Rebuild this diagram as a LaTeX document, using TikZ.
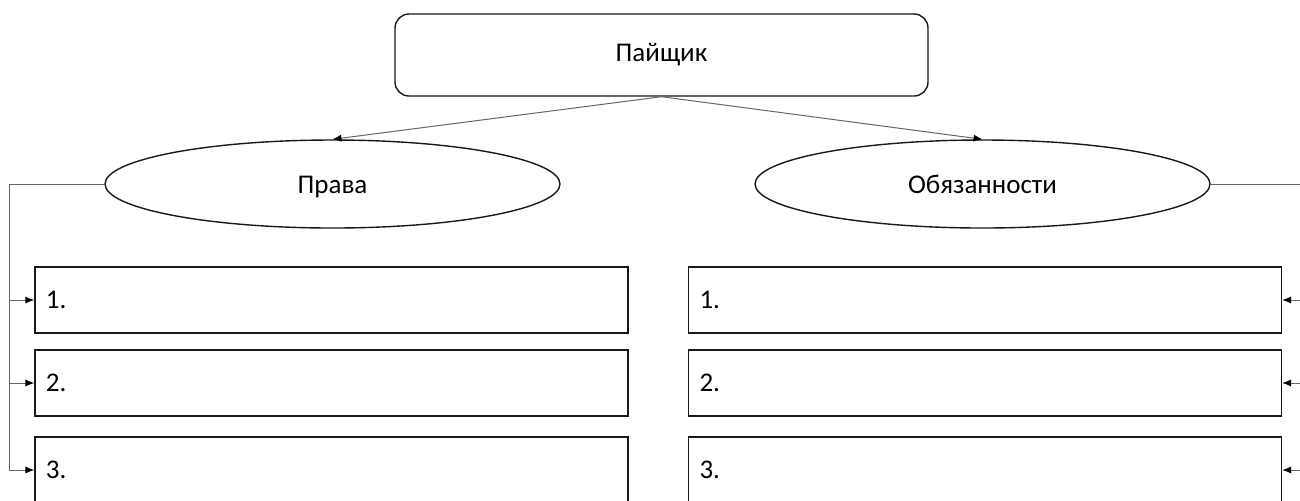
\documentclass[tikz,border=0pt]{standalone}
\usepackage{fontspec}
\setmainfont{Carlito}
\usetikzlibrary{arrows.meta,shapes.geometric}
\begin{document}
\begin{tikzpicture}[x=0.5pt,y=-0.5pt,
  font=\fontsize{13.5}{16}\selectfont,
  shapeline/.style={draw=black!90, line width=0.7pt},
  topbox/.style={shapeline, rectangle, rounded corners=7pt, minimum width=266.5pt, minimum height=41pt, inner sep=0pt},
  oval/.style={shapeline, ellipse, minimum width=227.5pt, minimum height=44pt, inner sep=0pt, text height=12pt, text depth=2.5pt},
  itembox/.style={shapeline, rectangle, minimum height=33pt, inner xsep=5.5pt, inner ysep=0pt, text width=285.5pt, align=left},
  conn/.style={draw=black!60, line width=0.5pt},
  arr/.style={conn, -{Latex[length=4.5pt,width=3.6pt,fill=black,color=black]}}
]
\useasboundingbox (0,0) rectangle (1300,500);
\clip (0,0) rectangle (1300,500);

\node[topbox] (top) at (661.5,55) {Пайщик};
\node[oval] (prava) at (332.5,184) {Права};
\node[oval] (obyaz) at (982.5,184) {Обязанности};

\node[itembox] (l1) at (331.5,300) {1.};
\node[itembox] (l2) at (331.5,383) {2.};
\node[itembox] (l3) at (331.5,470) {3.};
\node[itembox] (r1) at (985,300) {1.};
\node[itembox] (r2) at (985,383) {2.};
\node[itembox] (r3) at (985,470) {3.};

\coordinate (lx) at (9,0);
\coordinate (rx) at (1301,0);

\draw[arr] (top.south) -- (prava.north);
\draw[arr] (top.south) -- (obyaz.north);

\draw[arr] (prava.west) -| (l3.west -| lx) -- (l3.west);
\draw[arr] (l1.west -| lx) -- (l1.west);
\draw[arr] (l2.west -| lx) -- (l2.west);

\draw[arr] (obyaz.east) -| (r3.east -| rx) -- (r3.east);
\draw[arr] (r1.east -| rx) -- (r1.east);
\draw[arr] (r2.east -| rx) -- (r2.east);
\end{tikzpicture}
\end{document}
